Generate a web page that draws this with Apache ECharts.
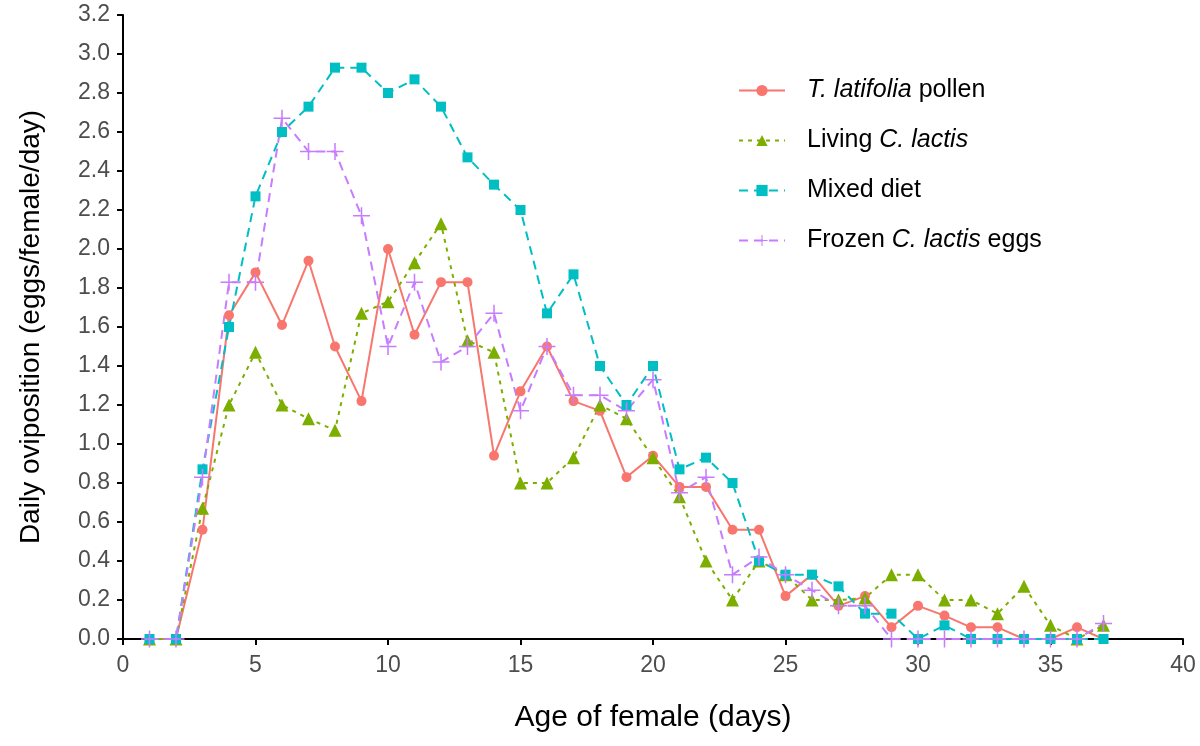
<!DOCTYPE html>
<html lang="en">
<head>
    <meta charset="UTF-8">
    <title>Daily oviposition</title>
    <script type="text/javascript" src="https://cdn.jsdelivr.net/npm/echarts@6/dist/echarts.min.js"></script>
    <style>
        html, body { margin: 0; padding: 0; background: #fff; }
    </style>
</head>
<body>
<div id="main" style="width: 1200px; height: 746px;"></div>
<script type="text/javascript">
    // age of female (days)
    var days = [1, 2, 3, 4, 5, 6, 7, 8, 9, 10, 11, 12, 13, 14, 15, 16, 17, 18, 19,
        20, 21, 22, 23, 24, 25, 26, 27, 28, 29, 30, 31, 32, 33, 34, 35, 36, 37];

    var seriesNames = ['T. latifolia pollen', 'Living C. lactis', 'Mixed diet', 'Frozen C. lactis eggs'];

    var pollen = [0, 0, 0.56, 1.66, 1.88, 1.61, 1.94, 1.50, 1.22, 2.00, 1.56, 1.83, 1.83, 0.94, 1.27, 1.50,
        1.22, 1.17, 0.83, 0.94, 0.78, 0.78, 0.56, 0.56, 0.22, 0.33, 0.17, 0.22, 0.06, 0.17, 0.12,
        0.06, 0.06, 0, 0, 0.06, 0];
    var livingLactis = [0, 0, 0.67, 1.20, 1.47, 1.20, 1.13, 1.07, 1.67, 1.73, 1.93, 2.13, 1.53, 1.47, 0.80, 0.80,
        0.93, 1.20, 1.13, 0.93, 0.73, 0.40, 0.20, 0.40, 0.33, 0.20, 0.20, 0.21, 0.33, 0.33, 0.20,
        0.20, 0.13, 0.27, 0.07, 0, 0.07];
    var mixedDiet = [0, 0, 0.87, 1.60, 2.27, 2.60, 2.73, 2.93, 2.93, 2.80, 2.87, 2.73, 2.47, 2.33, 2.20, 1.67,
        1.87, 1.40, 1.20, 1.40, 0.87, 0.93, 0.80, 0.40, 0.33, 0.33, 0.27, 0.13, 0.13, 0, 0.07,
        0, 0, 0, 0, 0, 0];
    var frozenLactis = [0, 0, 0.83, 1.83, 1.83, 2.67, 2.50, 2.50, 2.17, 1.50, 1.83, 1.42, 1.50, 1.67, 1.17, 1.50,
        1.25, 1.25, 1.17, 1.33, 0.75, 0.83, 0.33, 0.42, 0.33, 0.25, 0.17, 0.17, 0, 0, 0,
        0, 0, 0, 0, 0, 0.08];

    var xTicks = { min: 0, max: 40, interval: 5 };
    var yTicks = { min: 0, max: 3.2, interval: 0.2 };

    var colors = ['#F8766D', '#7CAE00', '#00BFC4', '#C77CFF'];
    var font = '"Liberation Sans", Arial, sans-serif';
    var plusPath = 'path://M0,4.55H10V5.45H0Z M4.55,0H5.45V10H4.55Z';

    function pairs(values) {
        return days.map(function (d, i) { return [d, values[i]]; });
    }

    var myChart = echarts.init(document.getElementById('main'));

    myChart.setOption({
        animation: false,
        textStyle: { fontFamily: font },
        grid: { left: 123, right: 17, top: 15, bottom: 107 },
        legend: {
            orient: 'vertical',
            left: 733,
            top: 72,
            itemWidth: 46,
            itemHeight: 14,
            itemGap: 23,
            data: seriesNames,
            formatter: function (name) {
                if (name === 'T. latifolia pollen') return '{i|T. latifolia} pollen';
                if (name === 'Living C. lactis') return 'Living {i|C. lactis}';
                if (name === 'Frozen C. lactis eggs') return 'Frozen {i|C. lactis} eggs';
                return name;
            },
            textStyle: {
                fontFamily: font,
                fontSize: 25,
                lineHeight: 27,
                color: '#000',
                padding: [0, 0, 0, 17],
                rich: {
                    i: { fontFamily: font, fontSize: 25, fontStyle: 'italic', color: '#000' }
                }
            }
        },
        xAxis: {
            type: 'value',
            min: xTicks.min,
            max: xTicks.max,
            interval: xTicks.interval,
            name: 'Age of female (days)',
            nameLocation: 'middle',
            nameGap: 64,
            nameTextStyle: { fontSize: 30, color: '#000', fontFamily: font },
            axisLine: { show: true, onZero: false, lineStyle: { color: '#000', width: 2 } },
            axisTick: { show: true, length: 6, lineStyle: { color: '#000', width: 2 } },
            axisLabel: { fontSize: 23, color: '#4d4d4d', margin: 15, fontFamily: font },
            splitLine: { show: false }
        },
        yAxis: {
            type: 'value',
            min: yTicks.min,
            max: yTicks.max,
            interval: yTicks.interval,
            name: 'Daily oviposition (eggs/female/day)',
            nameLocation: 'middle',
            nameGap: 78,
            nameTextStyle: { fontSize: 28, color: '#000', fontFamily: font },
            axisLine: { show: true, onZero: false, lineStyle: { color: '#000', width: 2 } },
            axisTick: { show: true, length: 6, lineStyle: { color: '#000', width: 2 } },
            axisLabel: {
                fontSize: 23, color: '#4d4d4d', margin: 13, fontFamily: font,
                formatter: function (v) { return v.toFixed(1); }
            },
            splitLine: { show: false }
        },
        series: [
            {
                name: seriesNames[0],
                type: 'line',
                data: pairs(pollen),
                symbol: 'circle',
                symbolSize: 10,
                itemStyle: { color: colors[0] },
                lineStyle: { color: colors[0], width: 2, type: 'solid' }
            },
            {
                name: seriesNames[1],
                type: 'line',
                data: pairs(livingLactis),
                symbol: 'triangle',
                symbolSize: 13,
                itemStyle: { color: colors[1] },
                lineStyle: { color: colors[1], width: 2, type: [4, 5] }
            },
            {
                name: seriesNames[2],
                type: 'line',
                data: pairs(mixedDiet),
                symbol: 'rect',
                symbolSize: 10,
                itemStyle: { color: colors[2] },
                lineStyle: { color: colors[2], width: 2, type: [9, 6] }
            },
            {
                name: seriesNames[3],
                type: 'line',
                data: pairs(frozenLactis),
                symbol: plusPath,
                symbolSize: 17,
                itemStyle: { color: colors[3] },
                lineStyle: { color: colors[3], width: 2, type: [9, 6] }
            }
        ]
    });
</script>
</body>
</html>
